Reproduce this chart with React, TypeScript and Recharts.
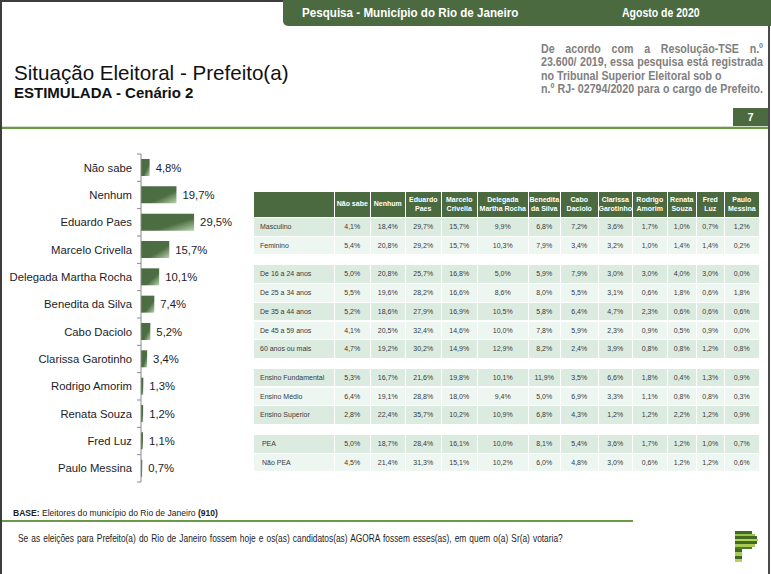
import React from 'react';
import { BarChart, Bar, XAxis, YAxis, LabelList } from 'recharts';

// ---------- data ----------
const candidates = [
  'Não sabe',
  'Nenhum',
  'Eduardo Paes',
  'Marcelo Crivella',
  'Delegada Martha Rocha',
  'Benedita da Silva',
  'Cabo Daciolo',
  'Clarissa Garotinho',
  'Rodrigo Amorim',
  'Renata Souza',
  'Fred Luz',
  'Paulo Messina',
];
const totals = [4.8, 19.7, 29.5, 15.7, 10.1, 7.4, 5.2, 3.4, 1.3, 1.2, 1.1, 0.7];

const tableHeaders = [
  ['Não sabe'],
  ['Nenhum'],
  ['Eduardo', 'Paes'],
  ['Marcelo', 'Crivella'],
  ['Delegada', 'Martha Rocha'],
  ['Benedita', 'da Silva'],
  ['Cabo', 'Daciolo'],
  ['Clarissa', 'Garotinho'],
  ['Rodrigo', 'Amorim'],
  ['Renata', 'Souza'],
  ['Fred', 'Luz'],
  ['Paulo', 'Messina'],
];

const sexoLabels = ['Masculino', 'Feminino'];
const sexoValues = [
  [4.1, 18.4, 29.7, 15.7, 9.9, 6.8, 7.2, 3.6, 1.7, 1.0, 0.7, 1.2],
  [5.4, 20.8, 29.2, 15.7, 10.3, 7.9, 3.4, 3.2, 1.0, 1.4, 1.4, 0.2],
];
const idadeLabels = ['De 16 a 24 anos', 'De 25 a 34 anos', 'De 35 a 44 anos', 'De 45 a 59 anos', '60 anos ou mais'];
const idadeValues = [
  [5.0, 20.8, 25.7, 16.8, 5.0, 5.9, 7.9, 3.0, 3.0, 4.0, 3.0, 0.0],
  [5.5, 19.6, 28.2, 16.6, 8.6, 8.0, 5.5, 3.1, 0.6, 1.8, 0.6, 1.8],
  [5.2, 18.6, 27.9, 16.9, 10.5, 5.8, 6.4, 4.7, 2.3, 0.6, 0.6, 0.6],
  [4.1, 20.5, 32.4, 14.6, 10.0, 7.8, 5.9, 2.3, 0.9, 0.5, 0.9, 0.0],
  [4.7, 19.2, 30.2, 14.9, 12.9, 8.2, 2.4, 3.9, 0.8, 0.8, 1.2, 0.8],
];
const escolaridadeLabels = ['Ensino Fundamental', 'Ensino Médio', 'Ensino Superior'];
const escolaridadeValues = [
  [5.3, 16.7, 21.6, 19.8, 10.1, 11.9, 3.5, 6.6, 1.8, 0.4, 1.3, 0.9],
  [6.4, 19.1, 28.8, 18.0, 9.4, 5.0, 6.9, 3.3, 1.1, 0.8, 0.8, 0.3],
  [2.8, 22.4, 35.7, 10.2, 10.9, 6.8, 4.3, 1.2, 1.2, 2.2, 1.2, 0.9],
];
const peaLabels = [' PEA', ' Não PEA'];
const peaValues = [
  [5.0, 18.7, 28.4, 16.1, 10.0, 8.1, 5.4, 3.6, 1.7, 1.2, 1.0, 0.7],
  [4.5, 21.4, 31.3, 15.1, 10.2, 6.0, 4.8, 3.0, 0.6, 1.2, 1.2, 0.6],
];

const groups = [
  { labels: sexoLabels, values: sexoValues },
  { labels: idadeLabels, values: idadeValues },
  { labels: escolaridadeLabels, values: escolaridadeValues },
  { labels: peaLabels, values: peaValues },
];

// ---------- style constants ----------
const GREEN = '#4b6a40';
const SANS = '"Liberation Sans", Arial, sans-serif';
const colEdges = [254, 335, 371, 406, 442, 478, 529, 561, 599, 633, 668, 697, 725, 760];
const TABLE_HEADER_TOP = 192;
const TABLE_HEADER_H = 25;
const ROW_START = 218;
const ROW_PITCH = 18.7;
const ROW_H = 17.6;
const GROUP_GAP = 10;

const fmt = (v: number) => v.toFixed(1).replace('.', ',') + '%';

const chartData = candidates.map((name, i) => ({ name, value: totals[i] }));

const Squeeze = ({ s, children }: { s: number; children: React.ReactNode }) => (
  <span style={{ display: 'inline-block', transform: `scaleX(${s})`, transformOrigin: 'left center', whiteSpace: 'nowrap' }}>
    {children}
  </span>
);

const AxisTick = (props: any) => {
  const { x, y, payload } = props;
  const axisX = x + 9;
  const off = payload && payload.offset ? payload.offset : 0;
  const isLast = payload && payload.value === candidates[candidates.length - 1];
  return (
    <g>
      <line x1={axisX - 4} x2={axisX} y1={y - off} y2={y - off} stroke="#8a8a8a" strokeWidth={1} />
      {isLast && <line x1={axisX - 4} x2={axisX} y1={y + off} y2={y + off} stroke="#8a8a8a" strokeWidth={1} />}
      <text x={x} y={y} dy={4} textAnchor="end" fill="#1c1c28" fontSize={11.3} fontFamily={SANS}>
        {payload.value}
      </text>
    </g>
  );
};

function Table() {
  const cells: React.ReactNode[] = [];
  for (let c = 0; c < colEdges.length - 1; c++) {
    const left = colEdges[c];
    const w = colEdges[c + 1] - colEdges[c] - 1.5;
    const lines = c === 0 ? [] : tableHeaders[c - 1];
    cells.push(
      <div
        key={'h' + c}
        style={{
          position: 'absolute',
          left,
          top: TABLE_HEADER_TOP,
          width: w,
          height: TABLE_HEADER_H,
          background: GREEN,
          color: '#fff',
          fontFamily: SANS,
          fontWeight: 'bold',
          fontSize: 7,
          lineHeight: '8.5px',
          display: 'flex',
          flexDirection: 'column',
          alignItems: 'center',
          justifyContent: 'center',
          textAlign: 'center',
          whiteSpace: 'nowrap',
        }}
      >
        {lines.map((l, i) => (
          <div key={i}>{l}</div>
        ))}
      </div>
    );
  }
  let top = ROW_START;
  groups.forEach((g, gi) => {
    g.labels.forEach((label, ri) => {
      const bg = ri % 2 === 0 ? '#dcebe0' : '#eef6f1';
      const rowTop = top + ri * ROW_PITCH;
      for (let c = 0; c < colEdges.length - 1; c++) {
        const left = colEdges[c];
        const w = colEdges[c + 1] - colEdges[c] - 1.5;
        const text = c === 0 ? label : fmt(g.values[ri][c - 1]);
        cells.push(
          <div
            key={`r${gi}-${ri}-${c}`}
            style={{
              position: 'absolute',
              left,
              top: rowTop,
              width: w,
              height: ROW_H,
              background: bg,
              color: '#3a3a3a',
              fontFamily: SANS,
              fontSize: 7,
              lineHeight: ROW_H + 'px',
              textAlign: c === 0 ? 'left' : 'center',
              paddingLeft: c === 0 ? 6 : 0,
              boxSizing: 'border-box',
              whiteSpace: 'pre',
            }}
          >
            {text}
          </div>
        );
      }
    });
    top += g.labels.length * ROW_PITCH + GROUP_GAP;
  });
  return <>{cells}</>;
}

function Logo() {
  const stripes = [
    { w: 17, c: '#3f6a22' },
    { w: 20, c: '#9cc24a' },
    { w: 22, c: '#3f6a22' },
    { w: 23, c: '#b7d25a' },
    { w: 22, c: '#3f6a22' },
    { w: 20, c: '#a9c955' },
    { w: 17, c: '#4d7a2a' },
    { w: 7, c: '#3f6a22' },
    { w: 7, c: '#a9c955' },
    { w: 7, c: '#3f6a22' },
    { w: 7, c: '#b7d25a' },
  ];
  return (
    <div style={{ position: 'absolute', left: 735, top: 531 }}>
      {stripes.map((s, i) => (
        <div key={i} style={{ width: s.w, height: i < 7 ? 2.6 : 3.2, background: s.c }} />
      ))}
    </div>
  );
}

const NOTE_W = 250;
const NOTE_S = 222 / NOTE_W;

export default function App() {
  return (
    <div
      style={{
        position: 'absolute',
        left: 0,
        top: 0,
        width: 771,
        height: 574,
        background: '#fff',
        overflow: 'hidden',
        fontFamily: SANS,
      }}
    >
      {/* frame */}
      <div style={{ position: 'absolute', left: 0, top: 0, width: 771, height: 2, background: '#3d3d3d' }} />
      <div style={{ position: 'absolute', left: 0, top: 0, width: 2, height: 574, background: '#3d3d3d' }} />
      <div style={{ position: 'absolute', left: 768, top: 0, width: 2, height: 574, background: '#4a4a4a' }} />

      {/* header tab */}
      <div
        style={{
          position: 'absolute',
          left: 283,
          top: 0,
          width: 488,
          height: 26,
          background: GREEN,
          borderBottomLeftRadius: 5,
        }}
      />
      <div style={{ position: 'absolute', left: 302, top: 6, color: '#fff', fontWeight: 'bold', fontSize: 12.5 }}>
        <Squeeze s={0.93}>Pesquisa - Município do Rio de Janeiro</Squeeze>
      </div>
      <div style={{ position: 'absolute', left: 622, top: 6, color: '#fff', fontWeight: 'bold', fontSize: 12.5 }}>
        <Squeeze s={0.84}>Agosto de 2020</Squeeze>
      </div>

      {/* titles */}
      <div style={{ position: 'absolute', left: 14, top: 61, color: '#111', fontSize: 21, whiteSpace: 'nowrap' }}>
        <Squeeze s={0.98}>Situação Eleitoral - Prefeito(a)</Squeeze>
      </div>
      <div
        style={{
          position: 'absolute',
          left: 14,
          top: 84,
          color: '#111',
          fontWeight: 'bold',
          fontSize: 15,
          whiteSpace: 'nowrap',
        }}
      >
        ESTIMULADA - Cenário 2
      </div>

      {/* legal note */}
      <div
        style={{
          position: 'absolute',
          left: 541,
          top: 43,
          width: NOTE_W,
          transform: `scaleX(${NOTE_S})`,
          transformOrigin: 'left top',
          color: '#808080',
          fontWeight: 'bold',
          fontSize: 12,
          lineHeight: '13.4px',
        }}
      >
        <div style={{ textAlign: 'justify', textAlignLast: 'justify' }}>De acordo com a Resolução-TSE n.º</div>
        <div style={{ textAlign: 'justify', textAlignLast: 'justify', whiteSpace: 'nowrap' }}>23.600/ 2019, essa pesquisa está registrada</div>
        <div style={{ textAlign: 'left' }}>no Tribunal Superior Eleitoral sob o</div>
        <div style={{ textAlign: 'justify', textAlignLast: 'justify', whiteSpace: 'nowrap' }}>n.º RJ- 02794/2020 para o cargo de Prefeito.</div>
      </div>

      {/* page number */}
      <div
        style={{
          position: 'absolute',
          left: 733,
          top: 108,
          width: 35,
          height: 19,
          background: GREEN,
          color: '#fff',
          fontWeight: 'bold',
          fontSize: 11,
          lineHeight: '19px',
          textAlign: 'center',
        }}
      >
        7
      </div>
      <div style={{ position: 'absolute', left: 2, top: 126, width: 766, height: 1, background: '#d5e0cc' }} />
      <div style={{ position: 'absolute', left: 2, top: 127, width: 766, height: 2, background: '#6a9a45' }} />

      {/* bar chart */}
      <div style={{ position: 'absolute', left: 0, top: 140 }}>
        <BarChart
          width={249}
          height={360}
          data={chartData}
          layout="vertical"
          margin={{ top: 14, right: 0, bottom: 18, left: 0 }}
          barSize={17}
        >
          <defs>
            <linearGradient id="barGrad" x1="0" y1="0" x2="1" y2="1">
              <stop offset="0%" stopColor="#4b6b40" />
              <stop offset="62%" stopColor="#4d6d42" />
              <stop offset="100%" stopColor="#b9d4ae" />
            </linearGradient>
          </defs>
          <XAxis type="number" domain={[0, 60]} hide />
          <YAxis
            type="category"
            dataKey="name"
            width={141}
            axisLine={{ stroke: '#8a8a8a' }}
            tickLine={false}
            tickSize={8}
            tickMargin={1}
            interval={0}
            tick={<AxisTick />}
          />
          <Bar dataKey="value" fill="url(#barGrad)" isAnimationActive={false}>
            <LabelList
              dataKey="value"
              position="right"
              offset={6}
              formatter={(v: any) => fmt(Number(v))}
              fill="#1c1c28"
              fontSize={11.3}
              fontFamily={SANS}
            />
          </Bar>
        </BarChart>
      </div>

      {/* table */}
      <Table />

      {/* footer */}
      <div style={{ position: 'absolute', left: 13, top: 507, color: '#222', fontSize: 9.5 }}>
        <Squeeze s={0.9}>
          <b>BASE:</b> Eleitores do município do Rio de Janeiro <b>(910)</b>
        </Squeeze>
      </div>
      <div style={{ position: 'absolute', left: 2, top: 520, width: 631, height: 2, background: '#6a9a45' }} />
      <div style={{ position: 'absolute', left: 18, top: 532, color: '#222', fontSize: 10.5, wordSpacing: 1 }}>
        <Squeeze s={0.795}>
          Se as eleições para Prefeito(a) do Rio de Janeiro fossem hoje e os(as) candidatos(as) AGORA fossem esses(as), em quem o(a) Sr(a) votaria?
        </Squeeze>
      </div>
      <Logo />
    </div>
  );
}
